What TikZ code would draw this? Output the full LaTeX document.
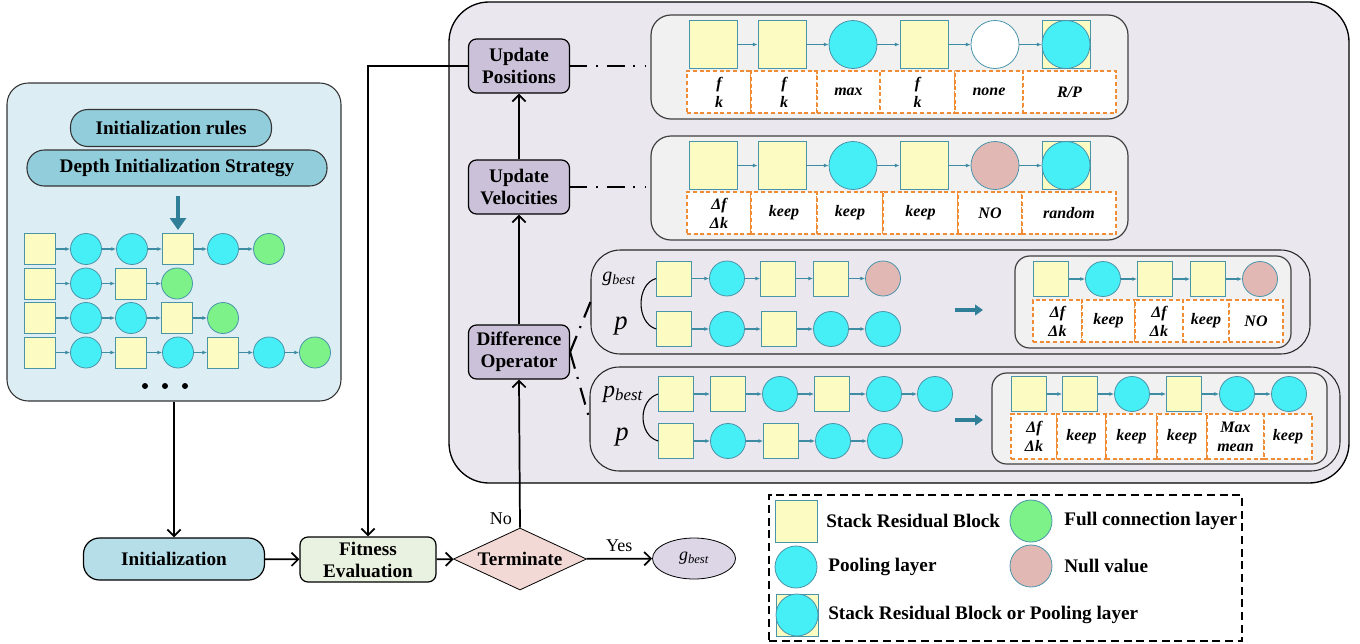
\documentclass[tikz,border=0pt]{standalone}
\usepackage{fontspec}
\setmainfont{Liberation Serif}
\usetikzlibrary{arrows.meta,shapes.geometric,fit}
\definecolor{yel}{HTML}{FBFBC2}
\definecolor{cya}{HTML}{46EEF5}
\definecolor{grn}{HTML}{7CF289}
\definecolor{nul}{HTML}{E2B8B4}
\definecolor{bord}{HTML}{4A94AA}
\definecolor{lnkc}{HTML}{3E8CA4}
\definecolor{leftbg}{HTML}{DCEDF3}
\definecolor{pillc}{HTML}{92CDDB}
\definecolor{mainbg}{HTML}{EAE7EF}
\definecolor{rowbg}{HTML}{F1F1F2}
\definecolor{procc}{HTML}{CBC1D9}
\definecolor{orng}{HTML}{F08C35}
\definecolor{initc}{HTML}{B6DEE8}
\definecolor{fitc}{HTML}{E9F1E0}
\definecolor{termc}{HTML}{F3D9D5}
\definecolor{gbc}{HTML}{DCD6E7}
\definecolor{thickc}{HTML}{2F7F99}
\newcommand{\blockrow}[4]{%
  \foreach \bx/\bt [count=\bi, remember=\bi as \bj (initially 0)] in {#4} {%
    \edef\tmpnode{\noexpand\node[\bt, minimum size=#3] (#1-\bi) at (\bx,#2) {};}\tmpnode
    \ifnum\bj>0 \draw[lnk] (#1-\bj) -- (#1-\bi);\fi
  }%
}
\newcommand{\trow}[4]{%
  \foreach \ca/\cb/\ct [count=\ci] in {#4} {%
    \node[tcell, fit={(\ca,#2)(\cb,#3)}] (#1-\ci) {};
    \node[tcelltext] (#1-\ci t) at (#1-\ci.center) {\ct};
  }%
}
\begin{document}
\begin{tikzpicture}[x=0.75pt,y=-0.75pt,
  sq/.style={rectangle, draw=bord, fill=yel, line width=0.6pt, inner sep=0pt},
  ci/.style={circle, draw=bord, fill=cya, line width=0.6pt, inner sep=0pt},
  gr/.style={ci, fill=grn},
  nu/.style={ci, fill=nul},
  wh/.style={ci, fill=white},
  lnk/.style={draw=lnkc, line width=0.8pt, -{Latex[length=3.5pt,width=3pt]}},
  tcell/.style={draw=orng, dash pattern=on 3pt off 2pt, fill=white, line width=0.8pt, inner sep=0pt},
  tcelltext/.style={align=center, inner sep=0pt, font=\fontsize{12}{14.25}\selectfont\bfseries\itshape},
  pillst/.style={draw=black!80, fill=pillc, rounded corners=13pt, line width=0.8pt, font=\fontsize{14.4}{16.5}\selectfont\bfseries, inner sep=0pt},
  procst/.style={draw=black, fill=procc, rounded corners=6pt, line width=0.9pt, minimum width=75.75pt, minimum height=40.5pt, align=center, font=\fontsize{14.4}{16.5}\selectfont\bfseries, inner sep=1pt},
  rowbox/.style={draw=black!75, fill=rowbg, rounded corners=15pt, line width=0.9pt, inner sep=0pt},
  grpbox/.style={draw=black!85, rounded corners=22pt, line width=0.8pt, inner sep=0pt},
  flow/.style={draw=black, line width=1.3pt, -{Straight Barb[length=5pt,width=10pt]}},
  dashdot/.style={draw=black, line width=1.6pt, dash pattern=on 13pt off 6.5pt on 1.5pt off 7pt},
  thickarr/.style={draw=thickc, line width=3pt, -{Triangle[length=9pt,width=12pt]}},
  thinarr/.style={draw=thickc, line width=3pt, -{Triangle[length=6pt,width=8pt]}},
  legtext/.style={anchor=west, font=\fontsize{14.4}{16.5}\selectfont\bfseries, inner sep=0pt},
  lab/.style={font=\fontsize{13.5}{15}\selectfont}
]
\useasboundingbox (0,0) rectangle (1360,643);

% ---------- left panel ----------
\node[draw=black!80, fill=leftbg, rounded corners=16pt, line width=0.8pt, inner sep=0pt, fit={(7,83)(341,401)}] (leftp) {};
\node[pillst, minimum width=150.75pt, minimum height=27.75pt] (rules) at (171,128) {Initialization rules};
\node[pillst, minimum width=225pt, minimum height=27pt] (depth) at (177,168) {Depth Initialization Strategy};
\coordinate (ta1) at (178,196);
\coordinate (ta2) at (178,230);
\draw[thickarr] (ta1) -- (ta2);
\blockrow{la}{249}{23.25pt}{40/sq,86/ci,132/ci,178/sq,223/ci,269/gr}
\blockrow{lb}{283.5}{23.25pt}{40/sq,86/ci,131/sq,177/gr}
\blockrow{lc}{318}{23.25pt}{40/sq,86/ci,131/ci,177/sq,223/gr}
\blockrow{ld}{352.5}{23.25pt}{40/sq,86/ci,131/sq,178/ci,223/sq,269/ci,315/gr}
\node[circle, fill=black, inner sep=0pt, minimum size=4.5pt] (dot1) at (145,386) {};
\node[circle, fill=black, inner sep=0pt, minimum size=4.5pt] (dot2) at (165,386) {};
\node[circle, fill=black, inner sep=0pt, minimum size=4.5pt] (dot3) at (185,386) {};

% ---------- main panel ----------
\node[draw=black, fill=mainbg, rounded corners=30pt, line width=1pt, inner sep=0pt, fit={(449,2)(1349,483)}] (mainp) {};

\node[procst] (upd) at (519,66) {Update\\Positions};
\node[procst] (vel) at (519,187) {Update\\Velocities};
\node[procst] (dif) at (519,352) {Difference\\Operator};

% positions row
\node[rowbox, fit={(651,15)(1128,119)}] (posbox) {};
\blockrow{pos}{44.5}{36pt}{713/sq,782/sq,853/ci,924/sq,995/wh,1066/sq}
\node[ci, minimum size=36pt] (pos-6c) at (pos-6) {};
\trow{pt}{71}{113}{687/751/{f\\k},751/817/{f\\k},817/880/{max},880/955/{f\\k},955/1023/{none},1023/1116/{R/P}}

% velocities row
\node[rowbox, fit={(651,136)(1128,240)}] (velbox) {};
\blockrow{vb}{165.5}{36pt}{713/sq,782/sq,853/ci,924/sq,995/nu,1066/sq}
\node[ci, minimum size=36pt] (vb-6c) at (vb-6) {};
\trow{vt}{192}{234}{687/751/{Δf\\Δk},751/817/{keep},817/883/{keep},883/958/{keep},958/1022/{NO},1022/1116/{random}}

% upper difference group
\node[grpbox, fit={(591,250)(1310,354)}] (gupper) {};
\blockrow{ga}{278.5}{26.25pt}{674/sq,727/ci,778/sq,831/sq,883/nu}
\blockrow{gb}{329}{26.25pt}{674/sq,727/ci,779/sq,831/ci,883/ci}
\node[font=\fontsize{15}{15}\selectfont\itshape] (glab) at (619,279) {g\textsubscript{best}};
\node[font=\fontsize{20}{20}\selectfont\itshape] (plab1) at (621,326) {p};
\draw[line width=0.8pt] (ga-1.west) .. controls (636,284) and (636,323) .. (gb-1.west);
\coordinate (ua1) at (955,310);
\coordinate (ua2) at (983,310);
\draw[thinarr] (ua1) -- (ua2);
\node[rowbox, rounded corners=11pt, fit={(1015,256)(1291,348)}] (gres) {};
\blockrow{gr}{279}{26.25pt}{1051/sq,1103/ci,1155/sq,1208/sq,1260/nu}
\trow{gt}{300}{342}{1033/1082/{Δf\\Δk},1082/1135/{keep},1135/1183/{Δf\\Δk},1183/1229/{keep},1229/1283/{NO}}

% lower difference group
\node[grpbox, fit={(590,367)(1340,471)}] (glower) {};
\blockrow{pa}{394}{26.25pt}{676/sq,728/sq,780/ci,832/sq,884/ci,935/ci}
\blockrow{pb}{441}{26.25pt}{676/sq,728/ci,781/sq,833/ci,885/ci}
\node[font=\fontsize{18}{18}\selectfont\itshape] (pblab) at (623,394) {p\textsubscript{best}};
\node[font=\fontsize{20}{20}\selectfont\itshape] (plab2) at (622,437) {p};
\draw[line width=0.8pt] (pa-1.west) .. controls (638,400) and (638,435) .. (pb-1.west);
\coordinate (la1) at (955,420);
\coordinate (la2) at (983,420);
\draw[thinarr] (la1) -- (la2);
\node[rowbox, rounded corners=11pt, fit={(992,373)(1327,464)}] (pres) {};
\blockrow{pr}{394}{26.25pt}{1029/sq,1080/sq,1132/ci,1184/sq,1237/ci,1289/ci}
\trow{prt}{414}{459}{1011/1057/{Δf\\Δk},1057/1106/{keep},1106/1157/{keep},1157/1207/{keep},1207/1264/{Max\\mean},1264/1312/{keep}}

% dash-dot connectors
\coordinate (pc) at (645,66);
\coordinate (vc) at (645,187);
\draw[dashdot] (upd.east) -- (pc);
\draw[dashdot] (vel.east) -- (vc);
\draw[dashdot] (dif.east) -- (gupper.west);
\draw[dashdot] (dif.east) -- (glower.west);

% ---------- bottom flow ----------
\node[draw=black, fill=initc, rounded corners=12pt, line width=0.9pt, minimum width=135.75pt, minimum height=31.5pt, font=\fontsize{14.4}{16.5}\selectfont\bfseries, inner sep=0pt] (init) at (174,559) {Initialization};
\node[draw=black, fill=fitc, rounded corners=6pt, line width=0.9pt, minimum width=102pt, minimum height=33.75pt, align=center, font=\fontsize{14.4}{16.5}\selectfont\bfseries, inner sep=0pt] (fit) at (368,559.5) {Fitness\\Evaluation};
\node[diamond, draw=black, fill=termc, aspect=2.15, line width=0.6pt, inner sep=0pt, minimum width=99.75pt, minimum height=46.5pt, font=\fontsize{14.4}{16.5}\selectfont\bfseries] (term) at (520,559) {Terminate};
\node[ellipse, draw=black, fill=gbc, line width=0.6pt, minimum width=62.25pt, minimum height=30.75pt, inner sep=0pt, font=\fontsize{13.5}{13.5}\selectfont\itshape] (gbest) at (694,558.5) {g\textsubscript{best}};

\draw[flow] (leftp.south) -- (init.north);
\draw[flow] (init) -- (fit);
\draw[flow] (fit) -- (term);
\draw[flow] (term) -- node[lab, above=1pt] {Yes} (gbest);
\draw[flow] (term.north) -- node[lab, pos=0.06, left=2pt] {No} (dif.south);
\draw[flow] (dif) -- (vel);
\draw[flow] (vel) -- (upd);
\draw[flow] (upd.west) -| (fit.north);

% ---------- legend ----------
\node[draw=black, dash pattern=on 6pt off 3.5pt, line width=0.8pt, inner sep=0pt, fit={(769,495)(1242,641)}] (legend) {};
\node[sq, minimum size=31.5pt] (lg1) at (796,521) {};
\node[legtext] (lt1) at (826,521) {Stack Residual Block};
\node[gr, minimum size=31.5pt] (lg2) at (1031,521) {};
\node[legtext] (lt2) at (1064,521) {Full connection layer};
\node[ci, minimum size=31.5pt] (lg3) at (796,567) {};
\node[legtext] (lt3) at (828,567) {Pooling layer};
\node[nu, minimum size=31.5pt] (lg4) at (1031,566) {};
\node[legtext] (lt4) at (1064,566) {Null value};
\node[sq, minimum size=31.5pt] (lg5) at (797,615) {};
\node[ci, minimum size=31.5pt] (lg5c) at (797,615) {};
\node[legtext] (lt5) at (828,615) {Stack Residual Block or Pooling layer};
\end{tikzpicture}
\end{document}
